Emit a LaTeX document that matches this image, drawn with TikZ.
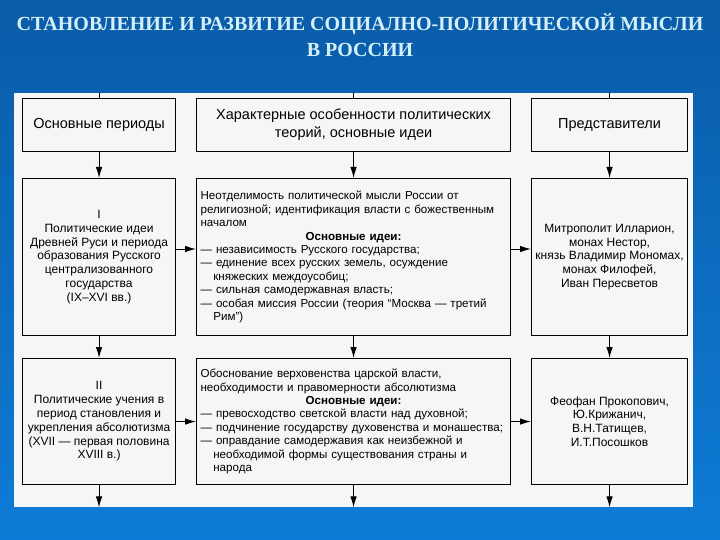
\documentclass[tikz,border=0pt]{standalone}
\usepackage{fontspec}
\setmainfont{Liberation Sans}
\newfontfamily\titlefont{Liberation Serif}
\usetikzlibrary{arrows.meta, calc}
\definecolor{slideBlue}{RGB}{10, 92, 168}
\definecolor{slideBlueLight}{RGB}{14, 124, 214}
\definecolor{titleCyan}{RGB}{214, 240, 250}
\definecolor{paper}{RGB}{246, 246, 246}
\newcommand{\lTitle}{СТАНОВЛЕНИЕ И РАЗВИТИЕ СОЦИАЛНО-ПОЛИТИЧЕСКОЙ МЫСЛИ\\В РОССИИ}
\newcommand{\lPeriods}{Основные периоды}
\newcommand{\lFeatures}{Характерные особенности политических\\теорий, основные идеи}
\newcommand{\lRepresent}{Представители}
\newcommand{\lMain}{\hfill\textbf{Основные идеи:}\hfill\null}
\newcommand{\lInd}{\hspace*{1.1em}}
\newcommand{\lPeriodOne}{I\\Политические идеи\\Древней Руси и периода\\образования Русского\\централизованного\\государства\\(IX–XVI вв.)}
\newcommand{\lPeriodTwo}{II\\Политические учения в\\период становления и\\укрепления абсолютизма\\(XVII — первая половина\\XVIII в.)}
\newcommand{\lIdeasOne}{Неотделимость политической мысли России от\\религиозной; идентификация власти с божественным\\началом\\\lMain\\— независимость Русского государства;\\— единение всех русских земель, осуждение\\\lInd княжеских междоусобиц;\\— сильная самодержавная власть;\\— особая миссия России (теория “Москва — третий\\\lInd Рим”)}
\newcommand{\lIdeasTwo}{Обоснование верховенства царской власти,\\необходимости и правомерности абсолютизма\\\lMain\\— превосходство светской власти над духовной;\\— подчинение государству духовенства и монашества;\\— оправдание самодержавия как неизбежной и\\\lInd необходимой формы существования страны и\\\lInd народа}
\newcommand{\lReprOne}{Митрополит Илларион,\\монах Нестор,\\князь Владимир Мономах,\\монах Филофей,\\Иван Пересветов}
\newcommand{\lReprTwo}{Феофан Прокопович,\\Ю.Крижанич,\\В.Н.Татищев,\\И.Т.Посошков}

\begin{document}
\begin{tikzpicture}[
        x=1pt, y=-1pt,
        box/.style={draw, fill=paper, line width=1.1pt, anchor=north west, inner sep=0pt},
        head/.style={box, minimum height=53pt, align=center, font=\fontsize{14.5}{18}\selectfont},
        side/.style={box, align=center, font=\fontsize{12}{13.8}\selectfont},
        middle/.style={box, inner xsep=4pt, text width=306pt, align=left, font=\fontsize{11.6}{13.4}\selectfont},
        per col/.style={minimum width=153pt},
        ideas col/.style={minimum width=314pt},
        repr col/.style={minimum width=156pt},
        arr/.style={line width=1pt, -{Latex[length=11pt, width=6.5pt]}}
    ]

    \useasboundingbox (0,0) rectangle (720,540);
    \shade[top color=slideBlue, bottom color=slideBlueLight] (0,0) rectangle (720,540);

    \node[font=\titlefont\bfseries\fontsize{20}{26}\selectfont, text=titleCyan, align=center] (title) at (360,35) {\lTitle};

    \node[fill=paper, anchor=north west, minimum width=679pt, minimum height=414pt, inner sep=0pt] (sheet) at (14,93) {};

    % header row
    \node[head, per col] (per0) at (22,98) {\lPeriods};
    \node[head, ideas col] (ideas0) at (196,98) {\lFeatures};
    \node[head, repr col] (repr0) at (531,98) {\lRepresent};

    % first period
    \node[side, per col, minimum height=157pt] (per1) at (22,178) {\lPeriodOne};
    \node[middle, minimum height=157pt] (ideas1) at (196,178) {\lIdeasOne};
    \node[side, repr col, minimum height=157pt] (repr1) at (531,178) {\lReprOne};

    % second period
    \node[side, per col, minimum height=126pt] (per2) at (22,358) {\lPeriodTwo};
    \node[middle, minimum height=126pt] (ideas2) at (196,358) {\lIdeasTwo};
    \node[side, repr col, minimum height=126pt] (repr2) at (531,358) {\lReprTwo};

    \foreach \c in {per, ideas, repr} {
        \draw[line width=1pt] (\c0.north |- sheet.north) -- (\c0.north);
        \draw[arr] (\c0.south) -- (\c1.north);
        \draw[arr] (\c1.south) -- (\c2.north);
        \draw[arr] (\c2.south) -- (\c2.south |- sheet.south);
    }

    \coordinate (row1) at (0,249);
    \draw[arr] (per1.east |- row1) -- (ideas1.west |- row1);
    \draw[arr] (ideas1.east |- row1) -- (repr1.west |- row1);
    \draw[arr] (per2.east) -- (ideas2.west);
    \draw[arr] (ideas2.east) -- (repr2.west);

\end{tikzpicture}
\end{document}
